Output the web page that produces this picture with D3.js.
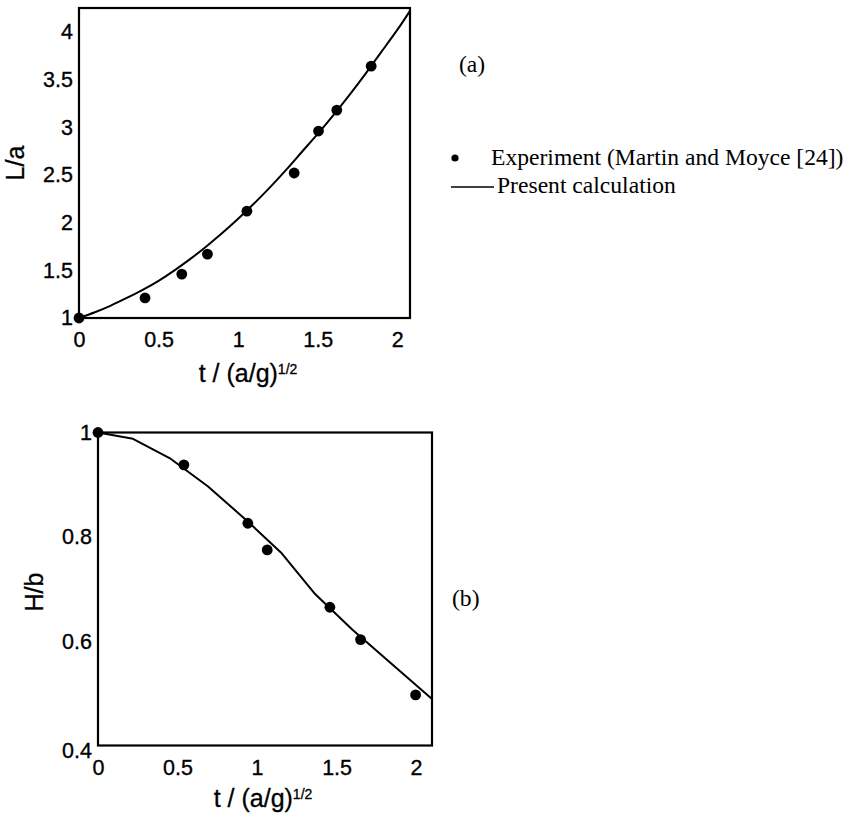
<!DOCTYPE html>
<html>
<head>
<meta charset="utf-8">
<script src="https://cdn.jsdelivr.net/npm/d3@7"></script>
<style>
  html, body { margin: 0; padding: 0; background: #fff; }
  svg { display: block; }
  .tick-label { font-family: "Liberation Sans", Arial, sans-serif; font-size: 21.5px; fill: #000; stroke: #000; stroke-width: 0.35px; }
  .axis-title { font-family: "Liberation Sans", Arial, sans-serif; font-size: 25px; fill: #000; stroke: #000; stroke-width: 0.3px; }
  .serif { font-family: "Liberation Serif", "Times New Roman", serif; font-size: 23.6px; fill: #000; }
</style>
</head>
<body>
<svg id="fig" width="862" height="823"></svg>
<script>
// (a) spreading length of the collapsing column
const expTimeA = [0, 0.415, 0.646, 0.807, 1.055, 1.352, 1.505, 1.62, 1.836];
const expLengthA = [1.0, 1.21, 1.46, 1.67, 2.12, 2.52, 2.96, 3.18, 3.64];
const calcTimeA = [0, 0.1, 0.2, 0.3, 0.4, 0.5, 0.6, 0.7, 0.8, 0.9, 1.0, 1.1, 1.2, 1.3, 1.4, 1.5, 1.6, 1.7, 1.8, 1.9, 2.0, 2.08];
const calcLengthA = [1.00, 1.06, 1.13, 1.21, 1.295, 1.39, 1.50, 1.62, 1.75, 1.89, 2.04, 2.20, 2.37, 2.55, 2.74, 2.93, 3.13, 3.34, 3.56, 3.79, 4.02, 4.22];
const xTicksA = [0, 0.5, 1, 1.5, 2];
const yTicksA = [1, 1.5, 2, 2.5, 3, 3.5, 4];

// (b) residual column height
const expTimeB = [0, 0.54, 0.942, 1.064, 1.458, 1.651, 1.997];
const expHeightB = [1.0, 0.938, 0.826, 0.775, 0.665, 0.603, 0.497];
const calcTimeB = [0, 0.22, 0.45, 0.69, 0.94, 1.15, 1.36, 1.60, 1.84, 2.10];
const calcHeightB = [1.0, 0.988, 0.951, 0.897, 0.830, 0.770, 0.692, 0.622, 0.558, 0.489];
const xTicksB = [0, 0.5, 1, 1.5, 2];
const yTicksB = [0.4, 0.6, 0.8, 1];

const legendLabels = ["Experiment (Martin and Moyce [24])", "Present calculation"];

const svg = d3.select("#fig");
svg.append("rect").attr("width", 862).attr("height", 823).attr("fill", "#fff");

function panel(cfg) {
  const x = d3.scaleLinear().domain(cfg.xDomain).range([cfg.left, cfg.right]);
  const y = d3.scaleLinear().domain(cfg.yDomain).range([cfg.bottom, cfg.top]);
  const g = svg.append("g");

  // frame
  g.append("rect")
    .attr("x", cfg.left).attr("y", cfg.top)
    .attr("width", cfg.right - cfg.left).attr("height", cfg.bottom - cfg.top)
    .attr("fill", "none").attr("stroke", "#000").attr("stroke-width", 2.2);

  // axes: labels only, no tick marks
  const xAxis = g.append("g").attr("transform", `translate(0,${cfg.bottom})`)
    .call(d3.axisBottom(x).tickValues(cfg.xTicks).tickSize(0).tickPadding(11).tickFormat(d3.format("")));
  const yAxis = g.append("g").attr("transform", `translate(${cfg.left},0)`)
    .call(d3.axisLeft(y).tickValues(cfg.yTicks).tickSize(0).tickPadding(6).tickFormat(d3.format("")));
  [xAxis, yAxis].forEach(a => {
    a.select(".domain").remove();
    a.attr("font-size", null).attr("font-family", null);
    a.selectAll("text").attr("class", "tick-label").attr("fill", null);
  });
  xAxis.selectAll("text").attr("dy", "0.85em");
  if (cfg.lowestYLabelShift) {
    yAxis.selectAll(".tick").filter(d => d === cfg.yTicks[0])
      .select("text").attr("dy", `${cfg.lowestYLabelShift}em`);
  }

  // computed curve
  const line = d3.line().x(d => x(d[0])).y(d => y(d[1])).curve(cfg.curve);
  g.append("path")
    .datum(cfg.calcT.map((t, i) => [t, cfg.calcV[i]]))
    .attr("d", line)
    .attr("fill", "none").attr("stroke", "#000").attr("stroke-width", 2)
    .attr("stroke-linejoin", "round");

  // experimental points
  g.selectAll("circle.exp")
    .data(cfg.expT.map((t, i) => [t, cfg.expV[i]]))
    .join("circle").attr("class", "exp")
    .attr("cx", d => x(d[0])).attr("cy", d => y(d[1]))
    .attr("r", 5.4).attr("fill", "#000");

  // axis titles
  const xt = g.append("text").attr("class", "axis-title")
    .attr("x", cfg.xTitleX).attr("y", cfg.xTitleY).attr("text-anchor", "middle");
  xt.append("tspan").text("t / (a/g)");
  xt.append("tspan").attr("dy", "-0.6em").attr("font-size", "14px").text("1/2");

  g.append("text").attr("class", "axis-title")
    .attr("transform", `translate(${cfg.yTitleX},${cfg.yTitleY}) rotate(-90)`)
    .attr("text-anchor", "middle").attr("dominant-baseline", "central")
    .text(cfg.yTitle);

  g.append("text").attr("class", "serif")
    .attr("x", cfg.tagX).attr("y", cfg.tagY).text(cfg.tag);
}

panel({
  left: 79, right: 410, top: 8, bottom: 318,
  xDomain: [0, 2.08], yDomain: [1, 4.25],
  xTicks: xTicksA, yTicks: yTicksA,
  calcT: calcTimeA, calcV: calcLengthA, curve: d3.curveNatural,
  expT: expTimeA, expV: expLengthA,
  xTitleX: 248, xTitleY: 382, yTitleX: 15, yTitleY: 163, yTitle: "L/a",
  tag: "(a)", tagX: 459, tagY: 72
});

panel({
  left: 98, right: 432, top: 432.5, bottom: 745.5,
  xDomain: [0, 2.1], yDomain: [0.4, 1],
  xTicks: xTicksB, yTicks: yTicksB,
  calcT: calcTimeB, calcV: calcHeightB, curve: d3.curveLinear,
  expT: expTimeB, expV: expHeightB,
  lowestYLabelShift: 0.55,
  xTitleX: 263, xTitleY: 807, yTitleX: 34, yTitleY: 592, yTitle: "H/b",
  tag: "(b)", tagX: 452, tagY: 606
});

// legend
const legend = svg.append("g");
legend.append("circle").attr("cx", 455).attr("cy", 158).attr("r", 3.6).attr("fill", "#000");
legend.append("text").attr("class", "serif").attr("x", 491).attr("y", 165).text(legendLabels[0]);
legend.append("line").attr("x1", 451).attr("x2", 494).attr("y1", 187).attr("y2", 187)
  .attr("stroke", "#000").attr("stroke-width", 1.5);
legend.append("text").attr("class", "serif").attr("x", 497).attr("y", 193).text(legendLabels[1]);
</script>
</body>
</html>
